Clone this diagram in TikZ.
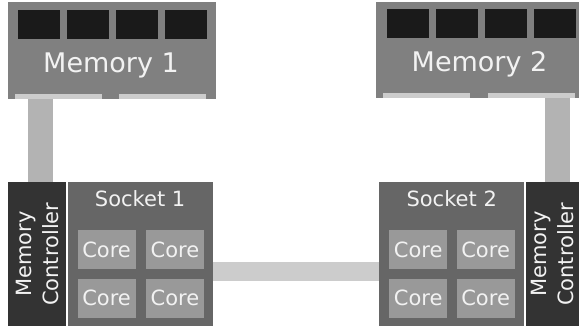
\documentclass[tikz,border=0pt]{standalone}
\usepackage{fontspec}
\setmainfont{DejaVu Sans}
\usetikzlibrary{positioning}

\definecolor{memgray}{HTML}{808080}
\definecolor{chipblack}{HTML}{1A1A1A}
\definecolor{stripgray}{HTML}{CCCCCC}
\definecolor{busgray}{HTML}{B3B3B3}
\definecolor{socketgray}{HTML}{666666}
\definecolor{ctrlgray}{HTML}{333333}
\definecolor{coregray}{HTML}{999999}
\definecolor{labelwhite}{HTML}{F2F2F2}

\begin{document}
\begin{tikzpicture}[x=1pt, y=-1pt,
        mem_box/.style={rectangle, fill=memgray, inner sep=0pt, minimum width=208pt, minimum height=97pt},
        chip/.style={rectangle, fill=chipblack, inner sep=0pt, minimum width=42pt, minimum height=29pt},
        strip/.style={rectangle, fill=stripgray, inner sep=0pt, minimum width=87pt, minimum height=5pt},
        ctrl_box/.style={rectangle, fill=ctrlgray, inner sep=0pt, minimum width=58pt, minimum height=144pt},
        socket_box/.style={rectangle, fill=socketgray, inner sep=0pt, minimum width=145pt, minimum height=144pt},
        core/.style={rectangle, fill=coregray, inner sep=0pt, minimum width=58pt, minimum height=39pt, text=labelwhite, font=\fontsize{21}{25}\selectfont},
        mem_label/.style={text=labelwhite, inner sep=0pt, font=\fontsize{27}{32}\selectfont},
        socket_label/.style={text=labelwhite, inner sep=0pt, font=\fontsize{21}{25}\selectfont},
        ctrl_label/.style={text=labelwhite, inner sep=0pt, align=center, font=\fontsize{21}{27}\selectfont},
        mem_bus/.style={draw=busgray, line width=25pt},
        qpi_link/.style={draw=stripgray, line width=19pt}
        ]
            \useasboundingbox (0,0) rectangle (579,326);

            % memory 1
            \node[mem_box, anchor=north west] (mem_1) at (8,2) {};
            \node[chip]   (chip_1_a)   [below right = 8pt and 10pt of mem_1.north west]   {};
            \node[chip]   (chip_1_b)   [right = 6.5pt of chip_1_a]                          {};
            \node[chip]   (chip_1_c)   [right = 6.5pt of chip_1_b]                          {};
            \node[chip]   (chip_1_d)   [right = 6.5pt of chip_1_c]                          {};
            \node[strip]  (strip_1_a)  [above right = 0pt and 7pt of mem_1.south west]    {};
            \node[strip]  (strip_1_b)  [right = 16pt of strip_1_a]                          {};
            \node[mem_label, anchor=base] (mem_label_1) at (111,73) {Memory 1};
            % memory 2
            \node[mem_box, anchor=north west, minimum width=203pt, minimum height=96pt] (mem_2) at (376,2) {};
            \node[chip]   (chip_2_a)   [below right = 7pt and 11pt of mem_2.north west]   {};
            \node[chip]   (chip_2_b)   [right = 6.5pt of chip_2_a]                          {};
            \node[chip]   (chip_2_c)   [right = 6.5pt of chip_2_b]                          {};
            \node[chip]   (chip_2_d)   [right = 6.5pt of chip_2_c]                          {};
            \node[strip]  (strip_2_a)  [above right = 0pt and 7pt of mem_2.south west]    {};
            \node[strip]  (strip_2_b)  [right = 17pt of strip_2_a]                          {};
            \node[mem_label, anchor=base] (mem_label_2) at (479.5,72) {Memory 2};

            % socket 1
            \node[ctrl_box, anchor=north west] (ctrl_1) at (8,182) {};
            \node[socket_box] (socket_1) [right = 1pt of ctrl_1] {};
            \node[ctrl_label, rotate=90] (ctrl_label_1) at (ctrl_1.center) {Memory\\Controller};
            \node[socket_label, anchor=base] (socket_label_1) at ([yshift=-25pt]socket_1.north) {Socket 1};
            \node[core]   (core_1_a)   [below right = 48pt and 10pt of socket_1.north west]  {Core};
            \node[core]   (core_1_b)   [right = 10pt of core_1_a]                              {Core};
            \node[core]   (core_1_c)   [below = 9pt of core_1_a]                               {Core};
            \node[core]   (core_1_d)   [below = 9pt of core_1_b]                               {Core};
            % socket 2
            \node[socket_box, anchor=north west] (socket_2) at (379,182) {};
            \node[ctrl_box, minimum width=54pt] (ctrl_2) [right = 1pt of socket_2] {};
            \node[ctrl_label, rotate=90] (ctrl_label_2) at (ctrl_2.center) {Memory\\Controller};
            \node[socket_label, anchor=base] (socket_label_2) at ([yshift=-25pt]socket_2.north) {Socket 2};
            \node[core]   (core_2_a)   [below right = 48pt and 10pt of socket_2.north west]  {Core};
            \node[core]   (core_2_b)   [right = 9pt of core_2_a]                               {Core};
            \node[core]   (core_2_c)   [below = 9pt of core_2_a]                               {Core};
            \node[core]   (core_2_d)   [below = 9pt of core_2_b]                               {Core};

            % links
            \coordinate (bus_1) at (40.5,99);
            \coordinate (bus_2) at (557.5,98);
            \draw[mem_bus] (bus_1) -- (bus_1 |- ctrl_1.north);
            \draw[mem_bus] (bus_2) -- (bus_2 |- ctrl_2.north);
            \draw[qpi_link] ([yshift=-17.5pt]socket_1.east) -- ([yshift=-17.5pt]socket_2.west);
        \end{tikzpicture}
\end{document}
